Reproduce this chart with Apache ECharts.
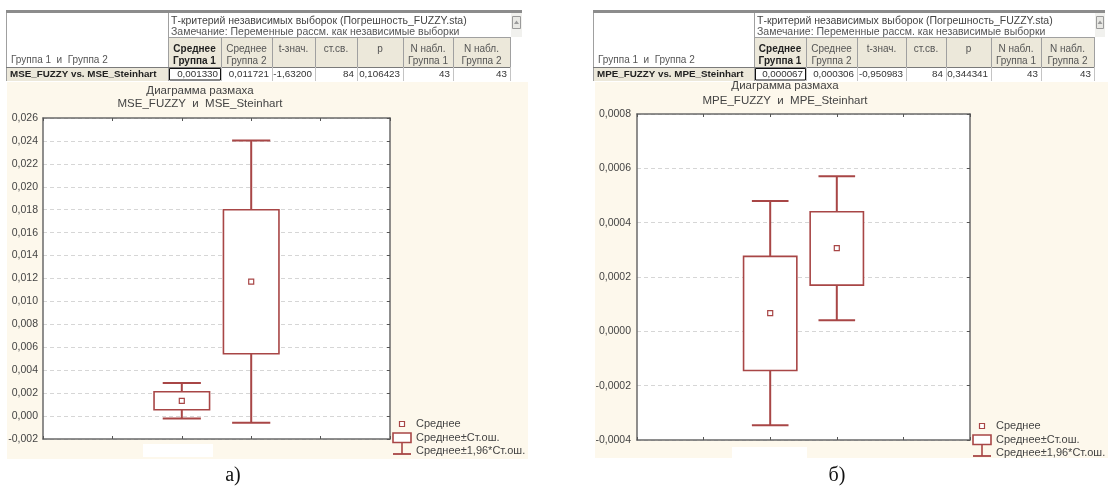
<!DOCTYPE html>
<html><head><meta charset="utf-8">
<script src="https://cdn.jsdelivr.net/npm/echarts@6/dist/echarts.min.js"></script>
<style>html,body{margin:0;padding:0;background:#fff;}#c{width:1108px;height:488px;}</style>
</head><body><div id="c"></div>
<script>
// ---- data ----
const xPositions = [2, 3];
const mseMean = [0.00133, 0.011721];
const mseBoxLow = [0.00055, 0.00544];
const mseBoxHigh = [0.00212, 0.0180];
const mseWhiskLow = [-0.00022, -0.00059];
const mseWhiskHigh = [0.00288, 0.02403];

const mpeMean = [0.000067, 0.000306];
const mpeBoxLow = [-0.000144, 0.000170];
const mpeBoxHigh = [0.000276, 0.000440];
const mpeWhiskLow = [-0.000346, 0.000041];
const mpeWhiskHigh = [0.00048, 0.000571];

const mseYMin = -0.002, mseYMax = 0.026, mseYStep = 0.002;
const mpeYMin = -0.0004, mpeYMax = 0.0008, mpeYStep = 0.0002;

const tableTitle1 = 'Т-критерий независимых выборок (Погрешность_FUZZY.sta)';
const tableTitle2 = 'Замечание: Переменные рассм. как независимые выборки';
const rowHeaderLabel = 'Группа 1  и  Группа 2';
const colHeaders1 = ['Среднее', 'Среднее', 't-знач.', 'ст.св.', 'p', 'N набл.', 'N набл.'];
const colHeaders2 = ['Группа 1', 'Группа 2', '', '', '', 'Группа 1', 'Группа 2'];
const mseRowLabel = 'MSE_FUZZY vs. MSE_Steinhart';
const mseRowValues = ['0,001330', '0,011721', '-1,63200', '84', '0,106423', '43', '43'];
const mpeRowLabel = 'MPE_FUZZY vs. MPE_Steinhart';
const mpeRowValues = ['0,000067', '0,000306', '-0,950983', '84', '0,344341', '43', '43'];
const legendLabels = ['Среднее', 'Среднее±Ст.ош.', 'Среднее±1,96*Ст.ош.'];
const chartTitle = 'Диаграмма размаха';
const mseSubtitle = 'MSE_FUZZY  и  MSE_Steinhart';
const mpeSubtitle = 'MPE_FUZZY  и  MPE_Steinhart';
const panelLabels = ['а)', 'б)'];

// ---- styles ----
const RED = '#a84646';
const CREAM = '#fdf8ec';
const FONT = '"Liberation Sans", Arial, sans-serif';
const TXT = '#3c3c3c';

function zip(xs, a, b, c, d, m) { return xs.map((x, i) => [x, a[i], b[i], c[i], d[i], m[i]]); }

function fmt(dec) {
  return v => { if (Math.abs(v) < 1e-12) v = 0; return v.toFixed(dec).replace('.', ','); };
}

function renderBox(params, api) {
  const x = api.value(0);
  const pBL = api.coord([x, api.value(1)]);
  const pBH = api.coord([x, api.value(2)]);
  const pWL = api.coord([x, api.value(3)]);
  const pWH = api.coord([x, api.value(4)]);
  const pM = api.coord([x, api.value(5)]);
  const boxW = api.size([0.8, 0])[0];
  const capW = api.size([0.55, 0])[0];
  const cx = pBL[0];
  const ls = { stroke: RED, lineWidth: 2 };
  return {
    type: 'group', children: [
      { type: 'line', shape: { x1: cx, y1: pBH[1], x2: cx, y2: pWH[1] }, style: ls },
      { type: 'line', shape: { x1: cx, y1: pWL[1], x2: cx, y2: pBL[1] }, style: ls },
      { type: 'line', shape: { x1: cx - capW / 2, y1: pWH[1], x2: cx + capW / 2, y2: pWH[1] }, style: ls },
      { type: 'line', shape: { x1: cx - capW / 2, y1: pWL[1], x2: cx + capW / 2, y2: pWL[1] }, style: ls },
      { type: 'rect', shape: { x: cx - boxW / 2, y: pBH[1], width: boxW, height: pBL[1] - pBH[1] }, style: { fill: '#fff', stroke: RED, lineWidth: 1.6 } },
      { type: 'rect', shape: { x: pM[0] - 2.5, y: pM[1] - 2.5, width: 5, height: 5 }, style: { fill: '#fff', stroke: RED, lineWidth: 1.2 } }
    ]
  };
}

function xAxes(gi) {
  const base = {
    type: 'value', gridIndex: gi, min: 0, max: 5, interval: 1, z: 3,
    axisLine: { show: true, onZero: false, lineStyle: { color: '#6a6a6a', width: 1.5 } },
    axisTick: { show: true, inside: true, length: 3, lineStyle: { color: '#555' } },
    axisLabel: { show: false }, splitLine: { show: false }
  };
  return [Object.assign({ position: 'bottom' }, base), Object.assign({ position: 'top' }, base)];
}
function yAxes(gi, min, max, step, dec, margin) {
  return [{
    type: 'value', gridIndex: gi, min: min, max: max, interval: step, position: 'left', z: 3,
    axisLine: { show: true, onZero: false, lineStyle: { color: '#6a6a6a', width: 1.5 } },
    axisTick: { show: false },
    axisLabel: { formatter: fmt(dec), color: '#444', fontSize: 10.5, fontFamily: FONT, margin: margin },
    splitLine: { show: true, lineStyle: { color: '#d6d6d6', type: [4, 3], width: 1 } }
  }, {
    type: 'value', gridIndex: gi, min: min, max: max, interval: step, position: 'right', z: 3,
    axisLine: { show: true, onZero: false, lineStyle: { color: '#6a6a6a', width: 1.5 } },
    axisTick: { show: true, inside: true, length: 3, lineStyle: { color: '#555' } },
    axisLabel: { show: false }, splitLine: { show: false }
  }];
}

// ---- table graphics ----
function text(x, y, s, opt) {
  opt = opt || {};
  return {
    type: 'text', x: x, y: y, z: 10,
    style: {
      text: s, fill: opt.color || TXT, textAlign: opt.align || 'left', textVerticalAlign: 'middle',
      font: (opt.bold ? 'bold ' : '') + (opt.size || 10) + 'px ' + FONT
    }
  };
}
function rect(x, y, w, h, fill, stroke, lw, z) {
  return { type: 'rect', z: z == null ? 5 : z, shape: { x: x, y: y, width: w, height: h }, style: { fill: fill || 'none', stroke: stroke || null, lineWidth: lw || 1 } };
}
function line(x1, y1, x2, y2, color, lw) {
  return { type: 'line', z: 6, shape: { x1: x1, y1: y1, x2: x2, y2: y2 }, style: { stroke: color, lineWidth: lw || 1 } };
}
function buildTable(edges, rowLabel, values, sbW) {
  const els = [];
  const x0 = edges[0], xEnd = edges[edges.length - 1];
  const yTop = 13, yH = 37, yD = 67, yB = 81;
  const BEIGE = '#ece8da', GRID = '#a0a0a0';
  els.push(rect(x0, 10, xEnd + sbW - x0, 3, '#8c8c8c', null, 0));
  els.push(rect(x0, yTop, xEnd - x0, yB - yTop, '#fff', null, 0));
  els.push(rect(edges[1], yH, xEnd - edges[1], yD - yH, BEIGE, null, 0));
  els.push(rect(x0, yD, edges[1] - x0, yB - yD, BEIGE, null, 0));
  els.push(line(x0 + 0.5, yTop, x0 + 0.5, yB, GRID));
  els.push(line(edges[1] + 0.5, yTop, edges[1] + 0.5, yB, GRID));
  els.push(line(edges[1], yH + 0.5, xEnd, yH + 0.5, GRID));
  els.push(line(x0, yD + 0.5, xEnd, yD + 0.5, '#7a7a7a'));
  for (let i = 2; i < edges.length; i++) {
    els.push(line(edges[i] + 0.5, yH, edges[i] + 0.5, yD, GRID));
    els.push(line(edges[i] + 0.5, yD, edges[i] + 0.5, yB, '#c4c4c4'));
  }
  els.push(rect(xEnd + 1, yTop, sbW - 1, yH - yTop, '#f1f1ee', null, 0));
  els.push(rect(xEnd + 2.5, yTop + 3.5, sbW - 4, 12, '#e8e8e4', '#9a9a9a', 1));
  els.push({ type: 'polygon', z: 7, shape: { points: [[xEnd + sbW / 2 + 0.5, yTop + 7.5], [xEnd + sbW / 2 - 2, yTop + 11], [xEnd + sbW / 2 + 3, yTop + 11]] }, style: { fill: '#9a9a9a' } });
  els.push(text(edges[1] + 3, 21, tableTitle1, { color: '#444', size: 10.5 }));
  els.push(text(edges[1] + 3, 32, tableTitle2, { color: '#555', size: 10.5 }));
  els.push(text(x0 + 5, 60, rowHeaderLabel, { color: '#555' }));
  els.push(text(x0 + 4, 74, rowLabel, { bold: true, color: '#222', size: 9.8 }));
  for (let i = 0; i < colHeaders1.length; i++) {
    const cx = (edges[i + 1] + edges[i + 2]) / 2;
    const bold = i === 0;
    els.push(text(cx, 49, colHeaders1[i], { align: 'center', bold: bold, color: bold ? '#222' : '#555' }));
    if (colHeaders2[i]) els.push(text(cx, 61, colHeaders2[i], { align: 'center', bold: bold, color: bold ? '#222' : '#555' }));
    els.push(text(edges[i + 2] - 3, 74, values[i], { align: 'right', color: '#333', size: 9.8 }));
  }
  els.push(rect(edges[1] + 1.5, yD + 1.5, edges[2] - edges[1] - 2, yB - yD - 2.5, 'none', '#111', 1));
  return els;
}
function buildLegend(x, y) {
  const els = [];
  els.push(rect(x - 2.5, y - 2.5, 5, 5, '#fff', RED, 1.2, 8));
  els.push(rect(x - 9, y + 9, 18, 9.5, '#fff', RED, 1.6, 8));
  els.push(line(x, y + 18.5, x, y + 30, RED, 1.6));
  els.push(line(x - 9, y + 30, x + 9, y + 30, RED, 1.8));
  els.push(text(x + 14, y, legendLabels[0], { size: 11, color: '#444' }));
  els.push(text(x + 14, y + 13.5, legendLabels[1], { size: 11, color: '#444' }));
  els.push(text(x + 14, y + 27, legendLabels[2], { size: 11, color: '#444' }));
  return els;
}

const graphics = [].concat(
  [rect(7, 82, 521, 377, CREAM, null, 0, -10), rect(595, 82, 513, 376, CREAM, null, 0, -10)],
  buildTable([6, 168, 221, 272, 315, 357, 403, 453, 510], mseRowLabel, mseRowValues, 12),
  buildTable([593, 754, 806, 857, 906, 946, 991, 1041, 1094], mpeRowLabel, mpeRowValues, 11),
  [text(200, 91, chartTitle, { align: 'center', size: 11.5, color: '#444' }),
   text(200, 104, mseSubtitle, { align: 'center', size: 11.5, color: '#444' }),
   text(785, 86, chartTitle, { align: 'center', size: 11.5, color: '#444' }),
   text(785, 100.5, mpeSubtitle, { align: 'center', size: 11.5, color: '#444' })],
  buildLegend(402, 424),
  buildLegend(982, 426),
  [rect(143, 444, 70, 13, '#ffffff', null, 0, 1), rect(732, 447, 75, 11, '#ffffff', null, 0, 1)],
  [{ type: 'text', x: 233, y: 476, z: 10, style: { text: panelLabels[0], textAlign: 'center', textVerticalAlign: 'middle', fill: '#111', font: '20px "Liberation Serif", "Times New Roman", serif' } },
   { type: 'text', x: 837, y: 476, z: 10, style: { text: panelLabels[1], textAlign: 'center', textVerticalAlign: 'middle', fill: '#111', font: '20px "Liberation Serif", "Times New Roman", serif' } }]
);

const chart = echarts.init(document.getElementById('c'), null, { renderer: 'canvas' });
chart.setOption({
  animation: false,
  backgroundColor: '#fff',
  grid: [
    { left: 43, top: 118, width: 347, height: 321, show: true, backgroundColor: '#fff', borderWidth: 0 },
    { left: 637, top: 114, width: 333, height: 326, show: true, backgroundColor: '#fff', borderWidth: 0 }
  ],
  xAxis: [].concat(xAxes(0), xAxes(1)),
  yAxis: [].concat(yAxes(0, mseYMin, mseYMax, mseYStep, 3, 5), yAxes(1, mpeYMin, mpeYMax, mpeYStep, 4, 6)),
  series: [
    { type: 'custom', xAxisIndex: 0, yAxisIndex: 0, renderItem: renderBox, z: 5,
      data: zip(xPositions, mseBoxLow, mseBoxHigh, mseWhiskLow, mseWhiskHigh, mseMean) },
    { type: 'custom', xAxisIndex: 2, yAxisIndex: 2, renderItem: renderBox, z: 5,
      data: zip(xPositions, mpeBoxLow, mpeBoxHigh, mpeWhiskLow, mpeWhiskHigh, mpeMean) }
  ],
  graphic: { elements: graphics }
});
</script></body></html>
